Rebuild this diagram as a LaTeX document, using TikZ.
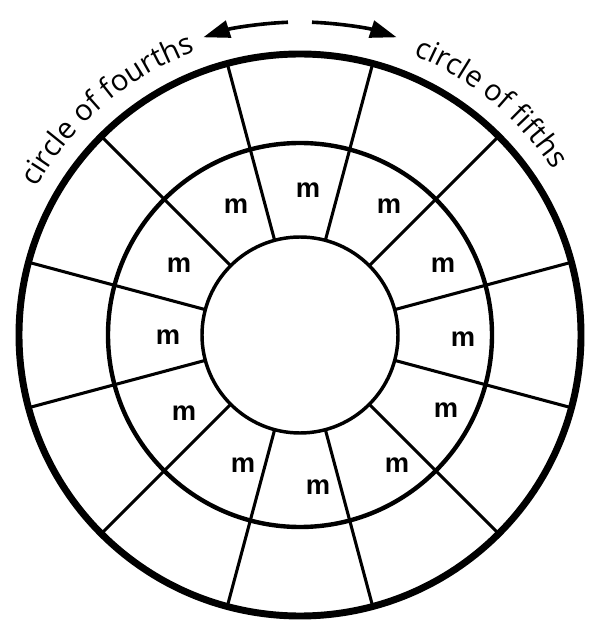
\documentclass[tikz,border=0pt]{standalone}
\usepackage{fontspec}
\setmainfont{Open Sans}
\newfontfamily\mlabelfont{Liberation Sans}
\newcommand\ringtextfont{\fontsize{22}{24}\selectfont}
\usetikzlibrary{arrows.meta,decorations.text}
\begin{document}
\begin{tikzpicture}[x=0.75pt,y=0.75pt,
  spoke/.style={line width=2.3pt, black},
  outerring/.style={line width=5.2pt, black},
  midring/.style={line width=3.3pt, black},
  innerring/.style={line width=2.6pt, black},
  mlabel/.style={font=\mlabelfont\bfseries\fontsize{20.5}{20.5}\selectfont, inner sep=0pt},
  dirarrow/.style={line width=2.7pt, -{Triangle[length=20pt,width=13pt]}},
]
\useasboundingbox (0,0) rectangle (615,640);
\coordinate (C) at (300,305);
% spokes
\foreach \k in {0,...,11}{
  \pgfmathsetmacro{\a}{15+30*\k}
  \path (C) ++(\a:281) coordinate (out\k);
  \path (C) ++(\a:98) coordinate (in\k);
  \draw[spoke] (out\k) -- (in\k);
}
% rings
\draw[outerring] (C) circle[radius=281];
\draw[midring] (C) circle[radius=192];
\draw[innerring] (C) circle[radius=98];
% m labels
\foreach \n/\x/\y in {1/308/450, 2/236/434, 3/389/434, 4/179/375, 5/168/303,
  6/184/227, 7/243/175, 8/318/153, 9/397/175, 10/446/230, 11/463/301, 12/443/375}{
  \node[mlabel] (m\n) at (\x,\y) {m};
}
% direction arrows
\path (C) ++(92.2:313) coordinate (la);
\path (C) ++(87.8:313) coordinate (ra);
\draw[dirarrow] (la) arc[start angle=92.2, end angle=108, radius=313];
\draw[dirarrow] (ra) arc[start angle=87.8, end angle=72, radius=313];
% arc texts
\path (C) ++(160.5:302) coordinate (lt);
\path (C) ++(80.5:302) coordinate (rt);
\path[decorate, decoration={text along path, text={|\ringtextfont|circle of fourths}, text align=center}]
  (lt) arc[start angle=160.5, end angle=100.5, radius=302];
\path[decorate, decoration={text along path, text={|\ringtextfont|circle of fifths}, text align=center}]
  (rt) arc[start angle=80.5, end angle=20.5, radius=302];
\end{tikzpicture}
\end{document}
